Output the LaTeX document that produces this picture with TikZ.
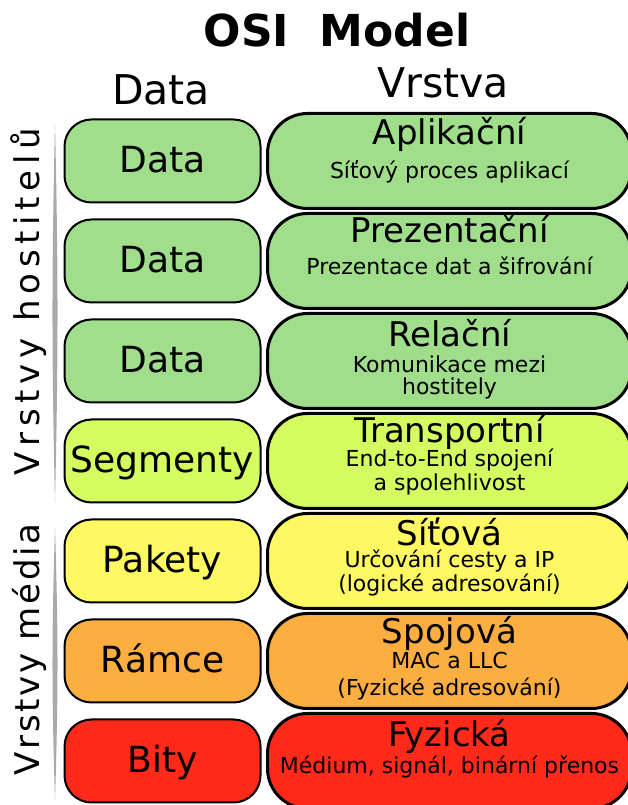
\documentclass[tikz,border=0pt]{standalone}
\usepackage{fontspec}
\setmainfont{DejaVu Sans}
\usepackage{tikz}
\usetikzlibrary{positioning}

\definecolor{zelena}{RGB}{160,222,140}
\definecolor{limet}{RGB}{212,252,96}
\definecolor{zluta}{RGB}{254,248,98}
\definecolor{oranz}{RGB}{253,174,64}
\definecolor{cervena}{RGB}{255,42,26}
\definecolor{lista}{RGB}{170,170,170}

\begin{document}
\begin{tikzpicture}[x=1pt, y=1pt,
    data/.style={draw, line width=2pt, rounded corners=27pt, minimum width=196pt, minimum height=83pt,
        inner sep=0pt, outer sep=0pt, text height=24pt, text depth=0pt, font=\fontsize{36}{40}\selectfont},
    vrstva/.style={draw, line width=3pt, rounded corners=40pt, minimum width=364pt, minimum height=95pt,
        inner sep=0pt, outer sep=0pt},
    nazev/.style={anchor=base, inner sep=0pt, font=\fontsize{34}{38}\selectfont},
    popis/.style={anchor=base, inner sep=0pt, align=center, font=\fontsize{22}{25}\selectfont},
    hlava/.style={anchor=base, inner sep=0pt, font=\fontsize{41}{46}\selectfont},
    bok/.style={rotate=90, inner sep=0pt, font=\fontsize{34}{38}\selectfont}]
        \useasboundingbox (0,0) rectangle (627,805);

        % nadpisy
        \node[anchor=base, inner sep=0pt, font=\fontsize{44}{50}\selectfont\bfseries] (titul) at (337,758) {OSI\ \ Model};
        \node[hlava] (hdata) at (161,700) {Data};
        \node[hlava] (hvrstva) at (443,707) {Vrstva};

        % data
        \node[data, fill=zelena](d1) at (162.5,644) {Data};
        \node[data, fill=zelena](d2)[below = 17pt of d1] {Data};
        \node[data, fill=zelena](d3)[below = 17pt of d2] {Data};
        \node[data, fill=limet](seg)[below = 17pt of d3] {Segmenty};
        \node[data, fill=zluta](pak)[below = 17pt of seg] {Pakety};
        \node[data, fill=oranz](ram)[below = 17pt of pak] {Rámce};
        \node[data, fill=cervena](bit)[below = 17pt of ram] {Bity};

        % vrstvy (base of a two-line popis = its last line)
        \node[vrstva, fill=zelena](v1)[right = 7pt of d1] {};
        \node[nazev](n1) at ([yshift=-31pt]v1.north) {Aplikační};
        \node[popis](p1) at ([yshift=-34pt]n1.base) {Síťový proces aplikací};

        \node[vrstva, fill=zelena](v2)[right = 7pt of d2] {};
        \node[nazev](n2) at ([yshift=-29pt]v2.north) {Prezentační};
        \node[popis](p2) at ([yshift=-32pt]n2.base) {Prezentace dat a šifrování};

        \node[vrstva, fill=zelena](v3)[right = 7pt of d3] {};
        \node[nazev](n3) at ([yshift=-33pt]v3.north) {Relační};
        \node[popis](p3) at ([yshift=-48pt]n3.base) {Komunikace mezi\\[-3pt] hostitely};

        \node[vrstva, fill=limet](v4)[right = 7pt of seg] {};
        \node[nazev](n4) at ([yshift=-29pt]v4.north) {Transportní};
        \node[popis](p4) at ([yshift=-48pt]n4.base) {End-to-End spojení\\[-1pt] a spolehlivost};

        \node[vrstva, fill=zluta](v5)[right = 7pt of pak] {};
        \node[nazev](n5) at ([yshift=-32pt]v5.north) {Síťová};
        \node[popis](p5) at ([yshift=-46pt]n5.base) {Určování cesty a IP\\[-1pt] (logické adresování)};

        \node[vrstva, fill=oranz](v6)[right = 7pt of ram] {};
        \node[nazev](n6) at ([yshift=-30pt]v6.north) {Spojová};
        \node[popis](p6) at ([yshift=-52pt]n6.base) {MAC a LLC\\[2pt] (Fyzické adresování)};

        \node[vrstva, fill=cervena](v7)[right = 7pt of bit] {};
        \node[nazev](n7) at ([yshift=-33pt]v7.north) {Fyzická};
        \node[popis](p7) at ([yshift=-27pt]n7.base) {Médium, signál, binární přenos};

        % listy vlevo
        \coordinate (h1) at ([xshift=-9.5pt, yshift=-4pt]d1.north west);
        \coordinate (h2) at ([xshift=-9.5pt]seg.south west);
        \coordinate (m1) at ([xshift=-9.5pt, yshift=-8pt]pak.north west);
        \coordinate (m2) at ([xshift=-9.5pt, yshift=2pt]bit.south west);
        \fill[lista] (h1) to[bend left=1.3] (h2) to[bend left=1.3] (h1);
        \fill[lista] (m1) to[bend left=1.8] (m2) to[bend left=1.8] (m1);

        \node[bok, font=\fontsize{34}{38}\selectfont\addfontfeature{LetterSpace=16.8}](hostitelu) at (29,503.5) {Vrstvy hostitelů};
        \node[bok, font=\fontsize{34}{38}\selectfont\addfontfeature{LetterSpace=7.7}](media) at (29,155.5) {Vrstvy média};
    \end{tikzpicture}
\end{document}
